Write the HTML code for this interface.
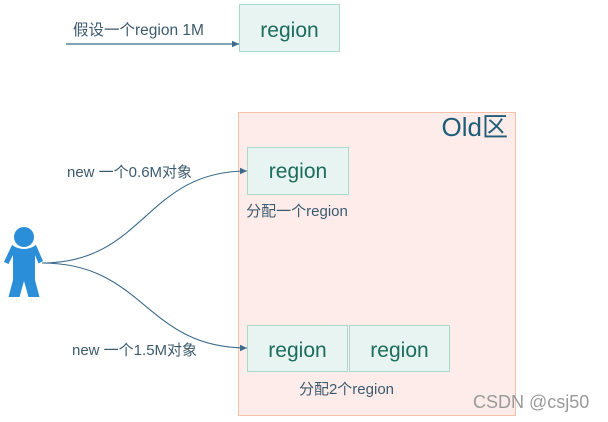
<!DOCTYPE html>
<html>
<head>
<meta charset="utf-8">
<style>
  html,body{margin:0;padding:0;background:#fff;}
  body{width:608px;height:422px;position:relative;overflow:hidden;
       font-family:"Liberation Sans","Noto Sans CJK SC",sans-serif;}
  svg{position:absolute;left:0;top:0;}
</style>
</head>
<body>
<svg width="608" height="422" viewBox="0 0 608 422" xmlns="http://www.w3.org/2000/svg"
     font-family="Liberation Sans, Noto Sans CJK SC, sans-serif">
  <defs>
    <marker id="ah" markerWidth="8" markerHeight="8" refX="7" refY="4" orient="auto" markerUnits="userSpaceOnUse">
      <path d="M0,0.8 L7,4 L0,7.2 Z" fill="#3a6a8c"/>
    </marker>
  </defs>

  <!-- Top row -->
  <text x="73" y="35" font-size="15.5" fill="#3d5b6e">假设一个region 1M</text>
  <line x1="66" y1="44" x2="239" y2="44" stroke="#3a6a8c" stroke-width="1.2" marker-end="url(#ah)"/>
  <rect x="239.5" y="4.5" width="100" height="47" fill="#e7f4f1" stroke="#acd9cd" stroke-width="1"/>
  <text x="289.5" y="37" font-size="21" fill="#1c6d5c" text-anchor="middle">region</text>

  <!-- Old area -->
  <rect x="238.5" y="112.5" width="277" height="303" fill="#fdece9" stroke="#f3c2a9" stroke-width="1"/>
  <text x="508" y="136" font-size="26" fill="#1f5d78" text-anchor="end">Old区</text>

  <!-- region 1 -->
  <rect x="247.5" y="147.5" width="101" height="47" fill="#e7f4f1" stroke="#acd9cd" stroke-width="1"/>
  <text x="298" y="178" font-size="21" fill="#1c6d5c" text-anchor="middle">region</text>
  <text x="297" y="216" font-size="15" fill="#3d5b6e" text-anchor="middle">分配一个region</text>

  <!-- region 2 & 3 -->
  <rect x="247.5" y="325.5" width="100" height="46" fill="#e7f4f1" stroke="#acd9cd" stroke-width="1"/>
  <text x="297.5" y="357" font-size="21" fill="#1c6d5c" text-anchor="middle">region</text>
  <rect x="349.5" y="325.5" width="100" height="46" fill="#e7f4f1" stroke="#acd9cd" stroke-width="1"/>
  <text x="399.5" y="357" font-size="21" fill="#1c6d5c" text-anchor="middle">region</text>
  <text x="346.5" y="394" font-size="15" fill="#3d5b6e" text-anchor="middle">分配2个region</text>

  <!-- Person -->
  <circle cx="24" cy="237" r="10" fill="#2b8ed8"/>
  <path d="M4 262 L12 245 Q24 253 36 245 L43 261 L38.5 263.5 L35 255 L35 280 L39.5 297 L28.5 297 L24 281 L19.5 297 L8.5 297 L13 280 L13 255 L8.5 264 Z" fill="#2b8ed8"/>

  <!-- Curves -->
  <path d="M42 263 C145 263 145 171 247 171" fill="none" stroke="#3a6a8c" stroke-width="1.1" marker-end="url(#ah)"/>
  <path d="M42 263 C145 263 145 348 247 348" fill="none" stroke="#3a6a8c" stroke-width="1.1" marker-end="url(#ah)"/>

  <text x="67" y="177" font-size="15" fill="#3d5b6e">new 一个0.6M对象</text>
  <text x="72" y="355" font-size="15" fill="#3d5b6e">new 一个1.5M对象</text>

  <!-- watermark -->
  <text x="473" y="408" font-size="18" fill="#9a9a9a">CSDN @csj50</text>
</svg>
</body>
</html>
